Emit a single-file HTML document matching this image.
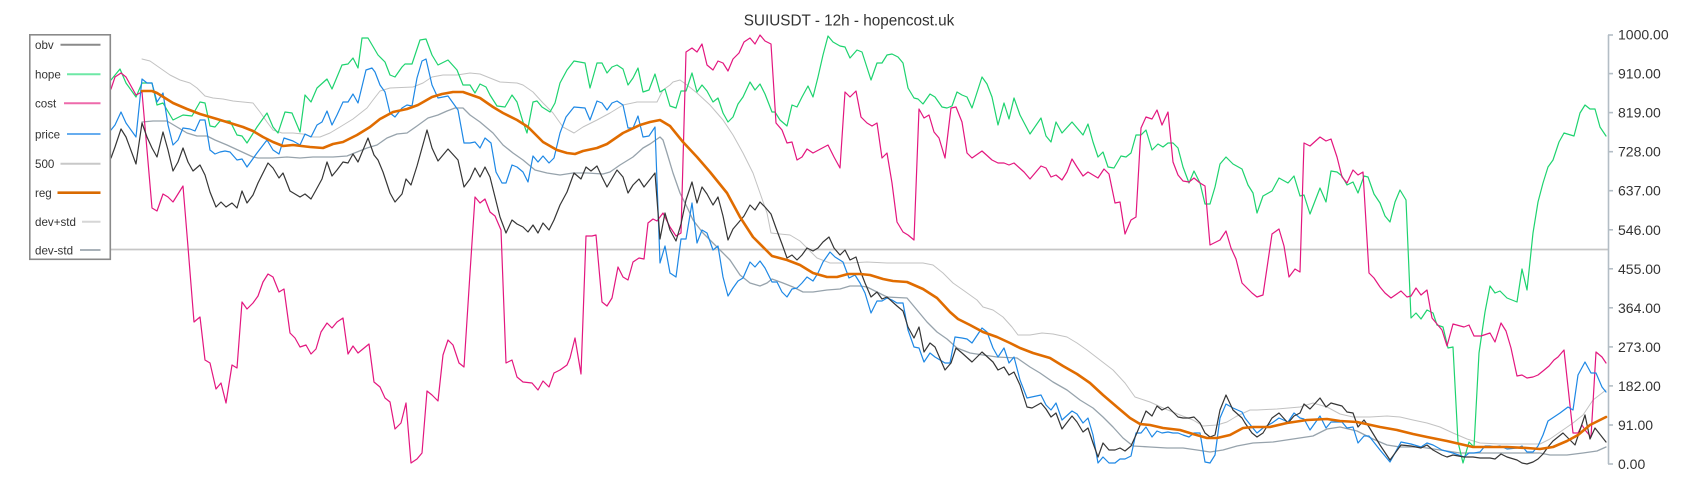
<!DOCTYPE html>
<html>
<head>
<meta charset="utf-8">
<style>
  html,body{margin:0;padding:0;background:#ffffff;}
  svg{display:block;}
  text{font-family:"Liberation Sans",Arial,sans-serif;fill:#333;}
</style>
</head>
<body>
<svg width="1700" height="500" viewBox="0 0 1700 500" xmlns="http://www.w3.org/2000/svg">
  <rect x="0" y="0" width="1700" height="500" fill="#ffffff"/>

  <!-- title -->
  <text x="849" y="25.5" font-size="15.3" text-anchor="middle">SUIUSDT - 12h - hopencost.uk</text>

  <!-- 500 line -->
  <line x1="105" y1="249.5" x2="1608" y2="249.5" stroke="#c6c6c6" stroke-width="1.7"/>

  <g fill="none" stroke-linejoin="round" stroke-linecap="round">
  <!-- dev+std -->
  <polyline stroke="#c2c2c2" stroke-width="1" points="142,59 150,61 160,68 170,75 180,80 190,83 197,88 205,96 213,98 223,99 233,101 243,102 253,103 260,112 267,122 273,130 282,133 293,133 303,134 313,137 320,137 330,133 340,127 353,119 367,108 373,100 380,91 390,88 413,87 423,83 432,77 443,75 457,75 470,73 480,74 490,78 500,82 517,83 523,85 533,92 543,103 553,113 563,127 574,133 583,127 597,120 610,113 623,105 637,102 657,102 663,90 670,85 673,82 680,80 687,85 697,93 710,105 723,120 733,135 743,153 753,173 760,193 767,213 771,233 780,234 790,235 800,241 807,248 817,258 830,263 850,263 867,262 887,263 907,263 923,263 933,265 943,273 953,283 963,290 977,300 983,307 993,310 1003,317 1012,327 1018,335 1030,335 1042,333 1053,334 1067,337 1077,343 1087,350 1100,360 1113,370 1125,383 1135,397 1150,402 1163,408 1180,415 1193,420 1203,426 1217,425 1227,422 1237,416 1250,410 1257,410 1277,409 1300,407 1313,403 1327,407 1340,414 1353,417 1370,417 1387,416 1400,417 1413,420 1427,423 1440,427 1453,433 1467,439 1480,443 1500,444 1520,444 1540,444 1550,439 1560,432 1573,423 1583,415 1593,400 1606,390"/>
  <!-- dev-std -->
  <polyline stroke="#97a3ac" stroke-width="1.3" points="142,122 153,121 167,121 177,127 187,133 197,136 207,136 215,140 227,145 240,151 253,157 258,158 273,158 287,157 300,158 313,157 333,157 347,156 357,152 367,148 377,145 387,138 397,134 407,133 417,126 428,118 438,115 447,111 455,108 463,108 470,115 480,122 493,133 503,145 513,153 523,160 535,170 547,173 560,175 573,173 587,173 603,174 610,172 620,165 633,157 643,148 650,144 660,137 663,140 667,153 673,173 680,193 687,207 693,220 703,233 717,247 730,260 740,275 750,283 760,286 767,283 772,279 783,283 793,287 803,292 813,292 827,290 840,289 850,286 860,286 867,287 877,292 887,297 907,298 917,310 927,322 937,332 947,339 957,348 970,353 983,355 997,357 1017,358 1030,367 1040,373 1053,382 1067,390 1080,400 1093,408 1103,417 1113,427 1123,438 1133,446 1150,447 1167,448 1183,448 1197,450 1210,452 1223,450 1237,446 1253,443 1273,442 1293,439 1313,436 1327,429 1340,427 1357,431 1373,439 1387,445 1400,447 1420,447 1440,450 1460,453 1480,453 1500,453 1520,453 1540,453 1550,455 1567,455 1583,453 1597,451 1606,447"/>

  <!-- hope -->
  <polyline stroke="#1ed36f" stroke-width="1.2" points="111,80 120,69 126,83 136,97 142,83 152,83 157,105 163,103 173,120 183,115 192,116 200,102 205,103 210,126 215,127 220,121 230,121 237,135 242,136 247,143 257,127 267,113 273,127 278,133 285,112 292,113 300,132 305,95 311,102 317,88 327,79 332,89 342,65 348,64 353,58 358,68 362,38 368,38 378,55 385,62 390,75 395,77 402,67 405,64 412,64 420,40 426,39 432,55 438,65 448,60 457,70 463,85 470,85 475,93 480,84 486,87 490,95 497,106 505,107 512,95 517,102 523,122 527,133 533,102 537,101 542,107 550,112 555,103 560,83 567,70 574,61 585,63 590,88 597,63 602,63 607,73 612,67 617,65 623,69 628,85 633,78 638,68 643,92 649,90 655,74 660,92 665,89 670,106 676,108 681,91 686,91 692,73 697,92 702,85 707,91 713,102 718,98 723,113 728,122 733,117 738,104 743,97 750,82 755,90 760,84 765,94 772,112 775,112 780,120 787,126 792,105 797,107 802,97 808,86 813,97 818,77 823,55 828,36 833,42 840,46 845,47 850,58 857,50 862,52 871,80 877,63 882,63 887,55 892,54 898,57 903,63 908,88 914,98 918,99 923,104 930,94 935,97 942,107 947,108 952,106 957,92 962,95 967,97 972,108 982,77 987,84 992,97 998,125 1004,103 1009,119 1014,98 1020,115 1030,134 1041,118 1046,136 1051,142 1056,122 1062,133 1072,122 1083,135 1088,124 1093,142 1098,157 1103,152 1108,167 1114,168 1121,156 1126,157 1131,153 1136,135 1141,135 1146,130 1152,150 1158,144 1163,147 1168,143 1173,143 1178,148 1183,167 1189,183 1194,171 1200,183 1205,204 1210,204 1215,187 1220,164 1226,157 1233,164 1242,169 1248,185 1253,193 1257,213 1263,196 1272,191 1279,178 1288,183 1294,176 1300,196 1304,195 1310,214 1320,188 1326,202 1331,171 1337,172 1342,176 1347,185 1353,182 1358,193 1364,176 1368,177 1374,194 1380,203 1385,216 1390,222 1395,202 1400,190 1406,200 1411,318 1416,313 1421,319 1427,310 1433,313 1437,325 1443,327 1448,348 1453,347 1458,442 1463,463 1469,442 1474,447 1479,353 1485,312 1490,286 1495,293 1500,291 1507,298 1517,302 1522,269 1527,290 1533,233 1538,202 1543,183 1548,167 1553,160 1559,142 1564,133 1574,136 1580,113 1585,105 1590,109 1595,109 1600,127 1606,136"/>

  <!-- cost -->
  <polyline stroke="#e3177f" stroke-width="1.2" points="111,89 115,77 121,73 126,77 136,95 142,92 152,208 157,211 163,194 168,197 173,202 183,186 188,247 194,322 200,317 205,360 210,363 216,389 221,383 226,403 232,365 237,368 242,302 247,309 253,303 258,296 263,282 268,274 273,277 279,292 284,289 290,333 295,338 300,347 306,345 311,354 316,349 321,332 327,323 332,328 337,322 343,318 348,354 353,346 358,353 369,344 374,382 380,387 385,398 390,402 395,429 401,423 406,403 411,463 417,459 422,453 427,391 432,395 438,401 443,355 448,340 453,345 459,363 464,367 470,273 475,197 480,203 485,199 490,212 495,216 501,230 506,363 512,360 517,377 523,382 532,383 538,390 543,381 549,387 554,373 560,370 567,365 570,358 575,338 581,374 586,236 592,236 596,235 602,302 607,306 612,298 618,267 623,277 628,280 633,262 639,258 644,259 648,223 653,219 657,221 663,213 670,227 676,236 681,233 686,52 692,48 697,52 702,44 707,65 713,70 718,61 723,63 728,71 733,59 739,53 744,42 750,38 755,44 760,35 765,41 771,44 776,123 782,130 787,143 792,142 797,160 802,157 807,149 813,153 828,145 834,157 840,168 845,92 850,97 856,91 861,117 867,123 872,126 877,123 882,158 887,153 892,183 897,222 903,232 908,235 914,240 919,109 924,118 929,115 934,132 939,138 945,158 951,108 956,107 962,122 967,153 972,158 982,151 992,160 998,163 1004,163 1009,165 1014,163 1024,172 1030,179 1041,166 1046,168 1051,177 1056,175 1062,180 1067,172 1072,159 1077,167 1083,176 1088,172 1098,178 1104,169 1109,174 1115,203 1120,202 1125,234 1131,220 1136,217 1141,128 1146,117 1152,119 1157,110 1162,125 1168,112 1173,162 1178,175 1183,181 1189,182 1194,178 1200,183 1205,186 1210,245 1216,242 1220,240 1226,231 1231,248 1236,259 1242,283 1252,293 1257,297 1263,295 1272,234 1279,229 1284,246 1289,277 1295,269 1300,272 1304,143 1310,146 1320,137 1326,141 1331,139 1337,157 1342,177 1347,183 1353,170 1358,175 1363,172 1369,273 1374,278 1380,287 1385,293 1391,298 1401,291 1407,297 1411,296 1416,288 1421,295 1427,290 1432,318 1442,330 1447,346 1453,324 1464,327 1469,325 1474,336 1481,336 1490,333 1495,342 1501,323 1506,331 1511,348 1517,376 1522,375 1527,378 1533,377 1538,375 1543,371 1549,366 1554,360 1558,357 1564,350 1573,433 1578,433 1582,425 1585,430 1591,437 1596,352 1602,357 1606,363"/>

  <!-- price -->
  <polyline stroke="#1e88e5" stroke-width="1.2" points="111,130 115,125 121,112 126,123 136,137 142,79 147,83 152,83 157,102 163,93 168,125 173,145 178,140 183,128 190,129 195,131 200,120 205,120 210,150 215,154 220,152 225,151 230,152 237,160 242,159 247,167 257,153 267,140 273,150 279,154 284,138 293,141 300,145 305,134 311,137 317,125 322,122 327,111 332,125 337,115 343,102 348,102 353,94 358,103 366,70 372,68 375,72 380,85 385,92 390,113 395,117 402,108 407,105 412,106 417,78 422,61 426,59 432,85 438,98 448,96 458,110 464,143 470,143 475,142 480,148 485,138 491,143 496,172 502,183 506,183 512,165 517,167 523,172 528,182 533,156 538,162 543,156 549,163 554,158 560,133 566,117 574,107 585,108 590,120 597,101 602,103 607,110 612,103 617,101 623,105 628,128 633,128 638,116 643,137 649,136 655,127 660,263 665,246 670,273 676,277 681,239 686,239 692,203 697,243 702,230 707,233 713,250 718,246 723,277 728,296 733,288 738,281 743,278 750,262 755,267 760,261 765,268 772,282 777,282 782,292 787,297 792,289 797,288 802,283 807,277 813,281 818,273 823,262 830,252 835,257 843,262 849,278 855,275 860,283 865,293 871,313 877,301 882,301 887,298 892,300 897,303 903,303 908,330 914,347 919,348 924,362 930,353 935,357 940,360 945,363 950,363 955,337 962,338 967,339 972,343 982,328 987,332 993,348 998,357 1004,348 1009,363 1014,357 1020,380 1027,398 1041,395 1046,405 1051,410 1056,403 1062,420 1072,411 1077,414 1083,423 1088,418 1093,435 1098,463 1103,457 1109,463 1115,463 1120,459 1125,459 1131,456 1136,433 1141,433 1146,427 1152,437 1157,431 1162,433 1168,432 1173,433 1178,433 1183,435 1189,437 1194,433 1200,433 1205,462 1210,463 1215,455 1220,418 1226,404 1233,408 1242,412 1245,418 1252,427 1257,433 1263,428 1272,423 1279,418 1288,422 1294,413 1300,418 1304,419 1310,430 1320,416 1326,428 1331,422 1342,422 1347,428 1353,427 1358,443 1364,436 1369,436 1380,450 1390,462 1401,442 1411,444 1421,447 1427,443 1433,445 1442,450 1453,453 1464,457 1469,453 1474,453 1480,452 1485,446 1490,446 1495,447 1500,446 1507,449 1517,448 1522,446 1527,452 1533,452 1538,446 1543,435 1548,421 1560,413 1568,407 1573,410 1578,375 1585,362 1591,373 1596,373 1602,387 1606,392"/>

  <!-- obv -->
  <polyline stroke="#363636" stroke-width="1.2" points="111,158 115,147 121,129 126,137 136,164 142,123 147,137 152,148 157,157 163,132 168,150 173,171 178,162 183,148 188,162 193,171 200,165 205,175 210,192 216,207 221,202 226,207 232,203 237,208 242,191 247,203 253,195 258,183 268,163 273,168 279,178 283,173 290,191 300,197 305,194 311,199 316,190 322,179 327,162 332,176 337,170 343,162 348,163 353,154 358,162 368,138 374,155 378,160 383,172 390,193 395,202 402,194 406,179 411,185 417,166 427,130 432,148 438,161 448,149 458,160 464,187 470,179 475,168 480,177 485,167 490,177 495,197 500,217 506,233 512,220 517,224 523,227 528,232 533,225 538,233 543,223 549,230 554,220 560,205 567,192 574,173 581,179 586,167 591,171 597,166 602,177 607,187 617,170 623,177 628,193 633,185 639,179 644,187 655,173 660,239 665,213 670,230 676,241 681,224 686,200 692,182 697,203 702,187 707,194 713,205 718,197 723,216 728,240 733,229 739,222 744,216 750,205 755,210 760,202 765,207 771,214 776,228 782,244 787,258 792,255 797,260 802,255 807,248 813,251 818,248 823,242 829,237 834,248 840,255 845,250 850,260 856,257 860,270 865,283 871,297 877,292 882,299 887,297 897,306 903,311 908,327 914,338 919,327 924,352 930,343 935,347 945,370 951,363 956,348 962,353 972,362 982,352 993,362 998,370 1004,367 1009,375 1014,372 1020,385 1027,407 1032,408 1041,403 1046,409 1051,417 1056,413 1062,429 1072,416 1077,422 1083,432 1088,428 1093,443 1098,457 1103,443 1109,450 1115,450 1120,448 1125,451 1131,446 1136,435 1141,423 1146,411 1152,416 1157,406 1162,410 1168,407 1173,412 1178,417 1183,418 1189,418 1194,417 1200,423 1205,433 1210,437 1215,435 1220,410 1226,395 1233,410 1242,418 1245,423 1252,433 1257,437 1263,433 1272,418 1279,413 1288,423 1294,416 1300,413 1304,404 1310,409 1320,398 1326,407 1331,403 1342,406 1347,412 1353,413 1358,427 1364,420 1369,427 1380,445 1390,460 1401,445 1411,446 1421,448 1427,445 1433,450 1442,455 1447,457 1453,455 1464,457 1473,457 1480,458 1490,458 1495,459 1501,454 1507,457 1517,460 1522,463 1527,464 1533,462 1538,459 1543,454 1548,447 1553,441 1563,433 1575,445 1585,415 1590,439 1595,428 1606,442"/>

  <!-- reg -->
  <polyline stroke="#e06c00" stroke-width="2.6" points="142,91 152,91 157,93 173,103 187,109 200,114 217,119 230,123 243,127 253,131 263,137 273,142 283,146 293,145 310,147 323,148 333,144 343,142 357,135 370,127 380,119 393,112 407,109 418,105 432,97 442,94 453,92 463,92 480,98 493,107 503,113 517,120 528,127 543,142 557,150 567,153 575,154 583,151 597,148 607,144 623,133 640,125 650,122 660,120 670,126 683,142 697,157 710,172 727,193 740,217 753,237 767,251 772,256 787,260 800,265 813,273 827,277 837,277 848,274 860,274 870,275 883,279 893,281 907,282 923,289 937,298 950,312 958,319 970,325 983,332 997,337 1010,343 1020,348 1033,353 1050,358 1063,366 1077,374 1090,383 1103,395 1117,407 1130,418 1140,424 1150,425 1163,428 1180,430 1193,434 1207,438 1217,438 1230,435 1243,428 1253,427 1270,427 1287,423 1307,420 1327,419 1340,421 1357,422 1380,427 1397,430 1413,434 1427,437 1447,441 1460,444 1473,447 1487,447 1507,447 1527,448 1540,449 1553,447 1567,441 1578,435 1590,425 1606,417"/>
  </g>

  <!-- right axis -->
  <g stroke="#b3bdc5" stroke-width="1.6">
    <line x1="1608.5" y1="35" x2="1608.5" y2="464"/>
    <line x1="1608" y1="35" x2="1613" y2="35"/>
    <line x1="1608" y1="73.6" x2="1613" y2="73.6"/>
    <line x1="1608" y1="112.6" x2="1613" y2="112.6"/>
    <line x1="1608" y1="151.7" x2="1613" y2="151.7"/>
    <line x1="1608" y1="190.7" x2="1613" y2="190.7"/>
    <line x1="1608" y1="229.8" x2="1613" y2="229.8"/>
    <line x1="1608" y1="268.8" x2="1613" y2="268.8"/>
    <line x1="1608" y1="307.8" x2="1613" y2="307.8"/>
    <line x1="1608" y1="346.9" x2="1613" y2="346.9"/>
    <line x1="1608" y1="385.9" x2="1613" y2="385.9"/>
    <line x1="1608" y1="425" x2="1613" y2="425"/>
    <line x1="1608" y1="464" x2="1613" y2="464"/>
  </g>
  <g font-size="14">
    <text x="1618" y="39.5">1000.00</text>
    <text x="1618" y="78.6">910.00</text>
    <text x="1618" y="117.6">819.00</text>
    <text x="1618" y="156.7">728.00</text>
    <text x="1618" y="195.7">637.00</text>
    <text x="1618" y="234.8">546.00</text>
    <text x="1618" y="273.8">455.00</text>
    <text x="1618" y="312.8">364.00</text>
    <text x="1618" y="351.9">273.00</text>
    <text x="1618" y="390.9">182.00</text>
    <text x="1618" y="430">91.00</text>
    <text x="1618" y="469">0.00</text>
  </g>

  <!-- legend -->
  <rect x="29.8" y="34.8" width="80.5" height="224.5" fill="#ffffff" stroke="#8a8a8a" stroke-width="1.6"/>
  <g font-size="11.6">
    <text x="35" y="49">obv</text>
    <text x="35" y="78.6">hope</text>
    <text x="35" y="107.6">cost</text>
    <text x="35" y="138.3">price</text>
    <text x="35" y="168">500</text>
    <text x="35" y="197">reg</text>
    <text x="35" y="226">dev+std</text>
    <text x="35" y="254.3">dev-std</text>
  </g>
  <g stroke-width="2">
    <line x1="60.5" y1="44.7" x2="100.5" y2="44.7" stroke="#8a8a8a"/>
    <line x1="67" y1="74.3" x2="100.5" y2="74.3" stroke="#6ee8a6"/>
    <line x1="64" y1="103.3" x2="100.5" y2="103.3" stroke="#ee6aab"/>
    <line x1="67" y1="134" x2="100.5" y2="134" stroke="#67adef"/>
    <line x1="60.5" y1="163.7" x2="100.5" y2="163.7" stroke="#c8c8c8"/>
    <line x1="57.5" y1="192.7" x2="100.5" y2="192.7" stroke="#d96a00" stroke-width="2.6"/>
    <line x1="82" y1="221.7" x2="100.5" y2="221.7" stroke="#d6d6d6"/>
    <line x1="80" y1="250" x2="100.5" y2="250" stroke="#a9b2b9"/>
  </g>
</svg>
</body>
</html>
